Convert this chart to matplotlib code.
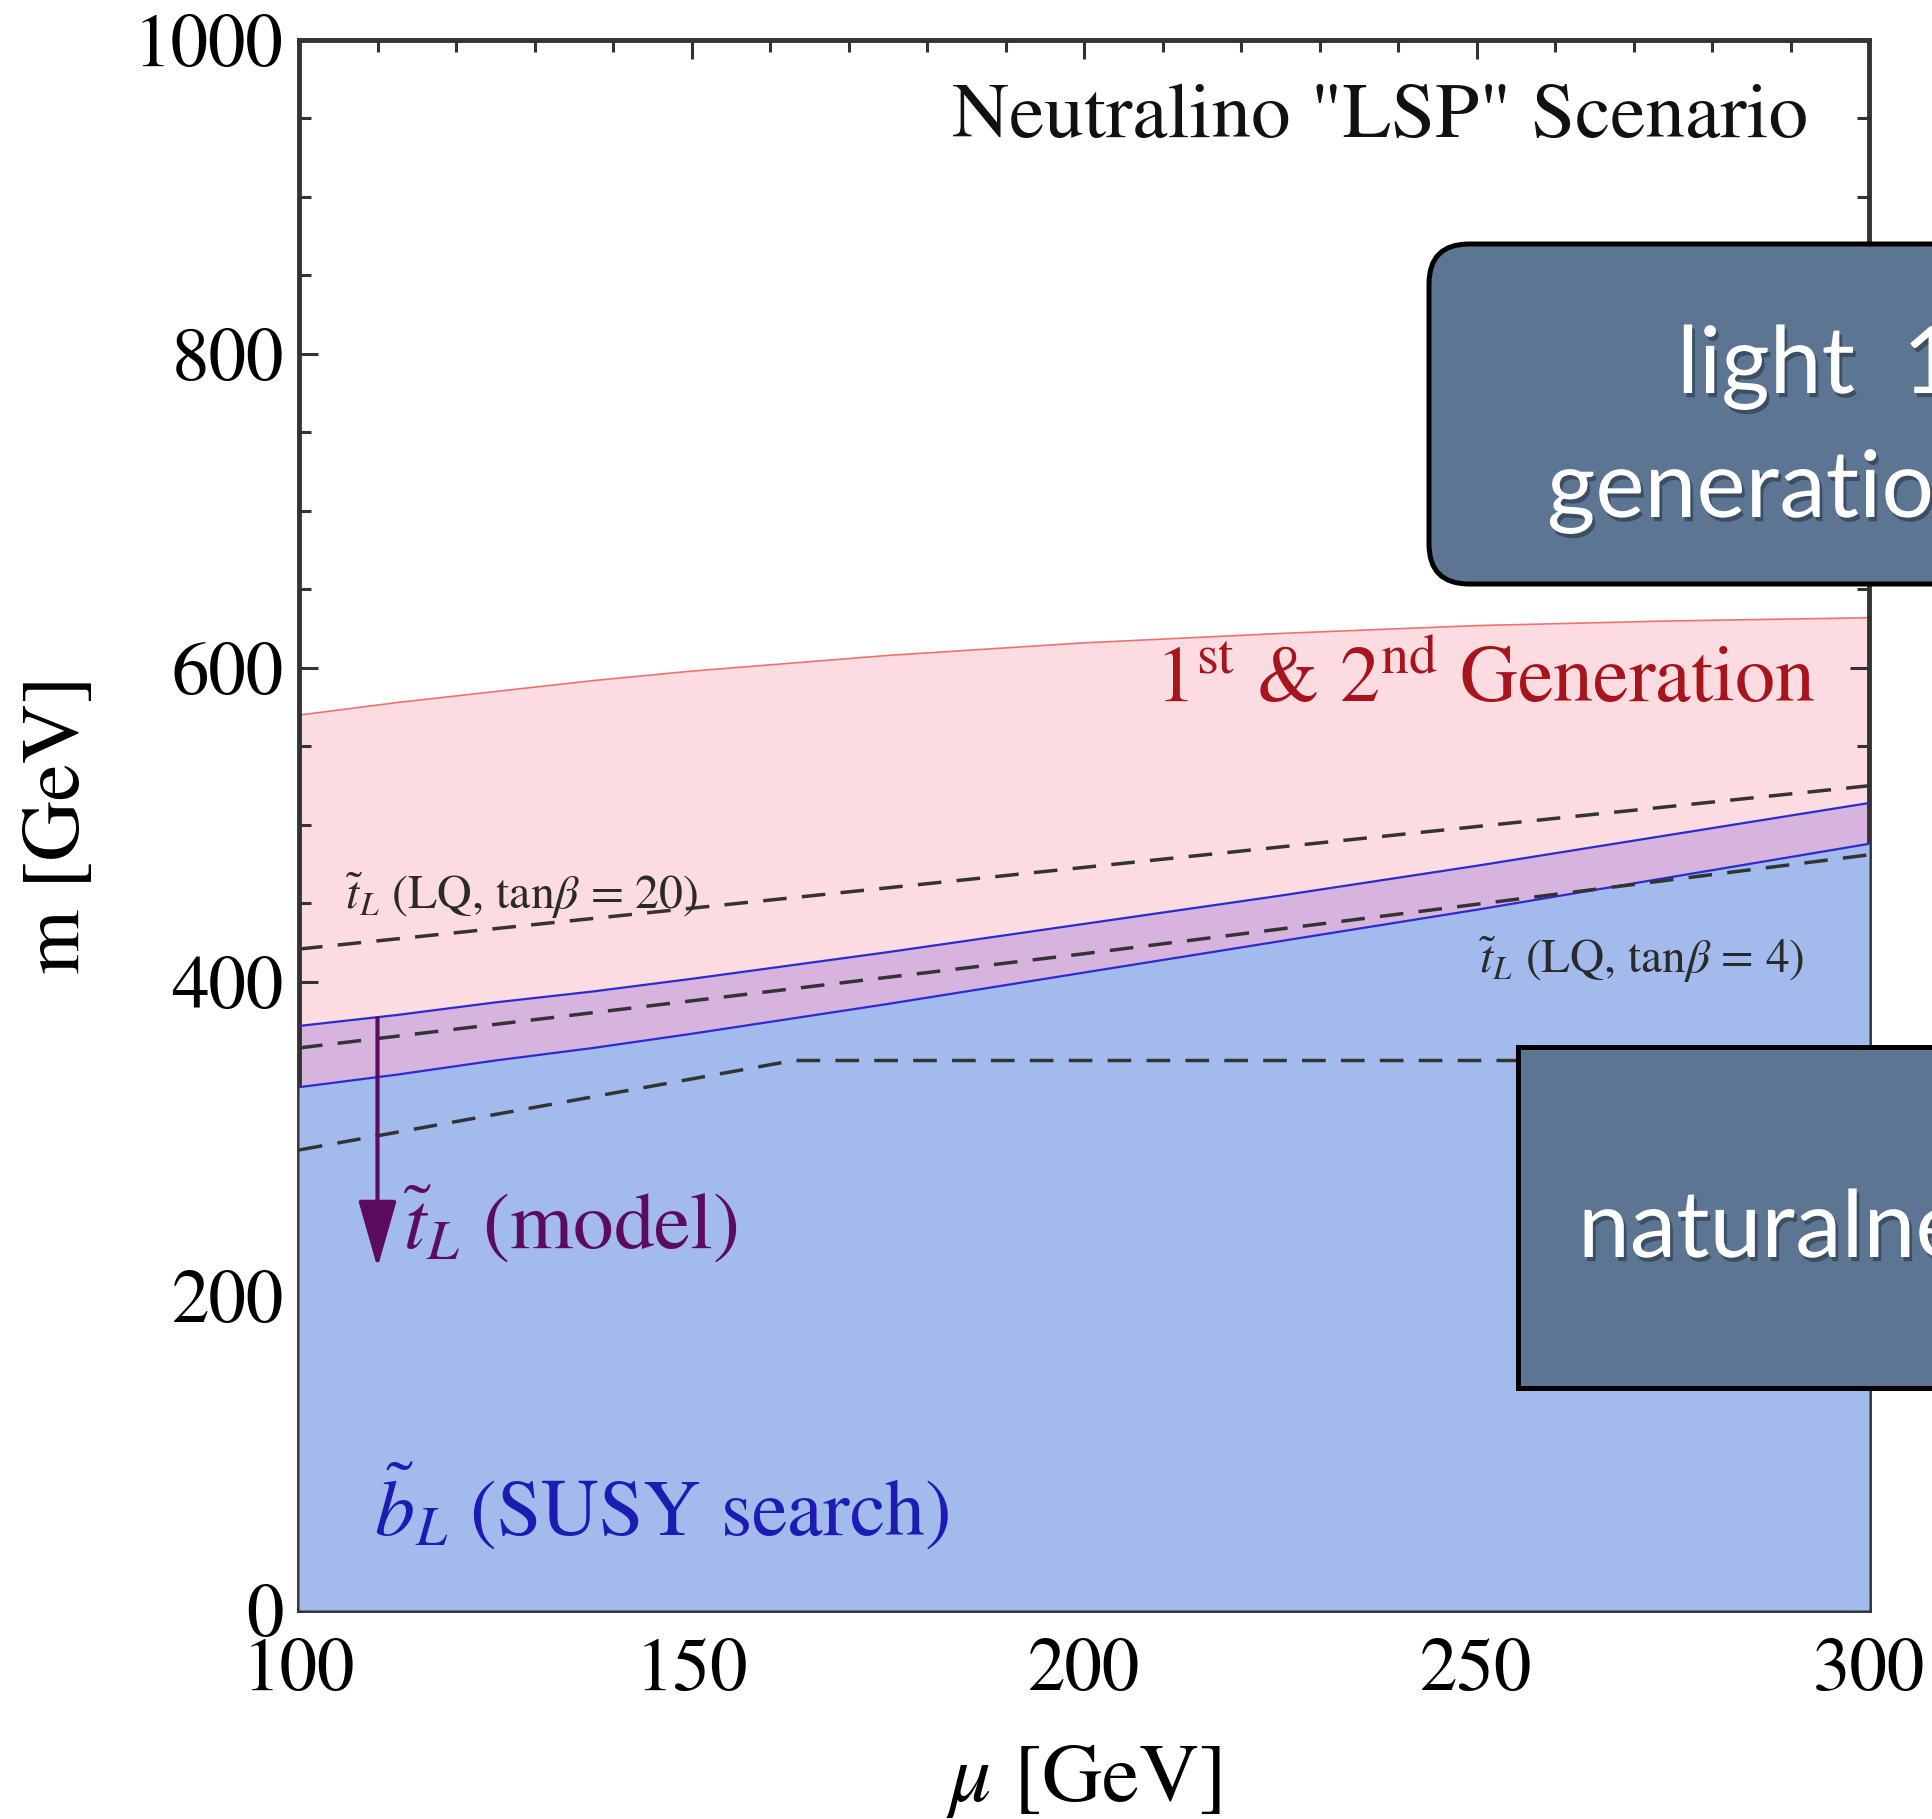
import numpy as np
import matplotlib
matplotlib.use("Agg")
import matplotlib.pyplot as plt
import matplotlib.patheffects as pe
from matplotlib.patches import FancyBboxPatch, Rectangle
from matplotlib.transforms import IdentityTransform
from matplotlib.ticker import MultipleLocator

plt.rcParams['font.family'] = ['STIXGeneral', 'DejaVu Serif']
plt.rcParams['mathtext.fontset'] = 'stix'
plt.rcParams['lines.scale_dashes'] = False

# (mu in GeV, m in GeV)
mu_pts = [100, 112.5, 125, 137.5, 150, 175, 200, 225, 250, 275, 300]
gen12_top = [570, 578, 585, 592, 598, 608, 616, 622, 627, 630, 632]
tL_model_top = [372, 379, 387, 394, 402, 419, 437, 455, 474, 494, 514]
bL_search_top = [333, 341, 350, 358, 367, 386, 406, 426, 446, 467, 488]

lq20_mu = [100, 200, 300]
lq20_m = [421, 473, 525]
lq4_mu = [100, 200, 300]
lq4_m = [358, 418, 481]
flat_mu = [100, 163, 300]
flat_m = [293, 350, 350]

arrow_mu = 110
arrow_from = 377
arrow_to = 218

pink = '#fcdce0'
purple = '#d6b4de'
blue = '#a3baec'
slate = '#5c7592'

W, H = 1932, 1819
fig = plt.figure(figsize=(W / 100, H / 100), dpi=100)
ax = fig.add_axes([299 / W, 1 - 1610 / H, 1570 / W, 1570 / H])

ax.fill_between(mu_pts, 0, gen12_top, color=pink, lw=0, zorder=1)
ax.plot(mu_pts, gen12_top, color='#f07070', lw=1.2, zorder=2)
ax.fill_between(mu_pts, 0, tL_model_top, color=purple, lw=0, zorder=2)
ax.fill_between(mu_pts, 0, bL_search_top, color=blue, lw=0, zorder=3)
ax.plot(mu_pts, tL_model_top, color='#2b2bd0', lw=1.6, zorder=4)
ax.plot(mu_pts, bL_search_top, color='#2b2bd0', lw=1.6, zorder=4)

for xs, ys in [(lq20_mu, lq20_m), (lq4_mu, lq4_m), (flat_mu, flat_m)]:
    ax.plot(xs, ys, color='#333333', lw=2.5, dashes=(17, 11), zorder=5)

ax.annotate('', xy=(arrow_mu, arrow_to), xytext=(arrow_mu, arrow_from),
            arrowprops=dict(arrowstyle='-|>,head_length=4.2,head_width=1.2',
                            mutation_scale=10, color='#5c0c5e', lw=3,
                            shrinkA=0, shrinkB=0), zorder=6)

ax.text(0.961, 0.938, 'Neutralino "LSP" Scenario', transform=ax.transAxes,
        ha='right', va='baseline', fontsize=57, color='#111111')
ax.text(0.9655, 0.5777, r'1$^{\mathrm{st}}$ & 2$^{\mathrm{nd}}$ Generation',
        transform=ax.transAxes, ha='right', va='baseline', fontsize=57.5,
        color='#a8141c', zorder=7)
ax.text(105.9, 446.5, r'$\tilde{t}_L$ (LQ, tan$\beta$ = 20)', ha='left',
        va='baseline', fontsize=34.5, color='#2a2a2a', zorder=7)
ax.text(291.8, 405.5, r'$\tilde{t}_L$ (LQ, tan$\beta$ = 4)', ha='right',
        va='baseline', fontsize=34, color='#2a2a2a', zorder=7)
ax.text(113.3, 230, r'$\tilde{t}_L$ (model)', ha='left', va='baseline',
        fontsize=58.5, color='#5c0c5e', zorder=7)
ax.text(109.5, 48, r'$\tilde{b}_L$ (SUSY search)', ha='left', va='baseline',
        fontsize=57.5, color='#1c1cb4', zorder=7)

ax.set_xlim(100, 300)
ax.set_ylim(0, 1000)
ax.xaxis.set_major_locator(MultipleLocator(50))
ax.xaxis.set_minor_locator(MultipleLocator(10))
ax.yaxis.set_major_locator(MultipleLocator(200))
ax.yaxis.set_minor_locator(MultipleLocator(50))
ax.tick_params(which='both', direction='in', top=True, right=True,
               color='#333333', width=2.2, labelsize=54)
ax.tick_params(which='major', length=14)
ax.tick_params(which='minor', length=8.5)
ax.tick_params(axis='x', pad=20)
ax.tick_params(axis='y', pad=11)
for s in ax.spines.values():
    s.set_linewidth(3.5)
    s.set_color('#333333')

ax.text(0.5, -0.109, r'$\mu$ [GeV]', transform=ax.transAxes, ha='center',
        va='center', fontsize=60)
ax.text(-0.152, 0.5, 'm [GeV]', transform=ax.transAxes, ha='center',
        va='center', fontsize=60, rotation=90)

# slide boxes laid over the plot, running off the right edge
box1 = FancyBboxPatch((1429, H - 584), 800, 340,
                      boxstyle='round,pad=0,rounding_size=40',
                      transform=IdentityTransform(), facecolor=slate,
                      edgecolor='black', lw=3.6, zorder=10)
box2 = Rectangle((1518, H - 1388), 800, 341, transform=IdentityTransform(),
                 facecolor=slate, edgecolor='black', lw=3.6, zorder=10)
fig.add_artist(box1)
fig.add_artist(box2)

shadow = [pe.withSimplePatchShadow(offset=(2, -3), shadow_rgbFace='#1b2838',
                                   alpha=0.5)]
fig.text(1677 / W, 1 - 393 / H, 'light  1st/2nd', fontsize=67, family='Lato',
         color='white', va='baseline', zorder=11, path_effects=shadow)
fig.text(1547 / W, 1 - 517 / H, 'generation squarks', fontsize=67,
         family='Lato', color='white', va='baseline', zorder=11,
         path_effects=shadow)
fig.text(1578 / W, 1 - 1257 / H, 'naturalness', fontsize=67, family='Lato',
         color='white', va='baseline', zorder=11, path_effects=shadow)

fig.savefig('out.png', dpi=100)
